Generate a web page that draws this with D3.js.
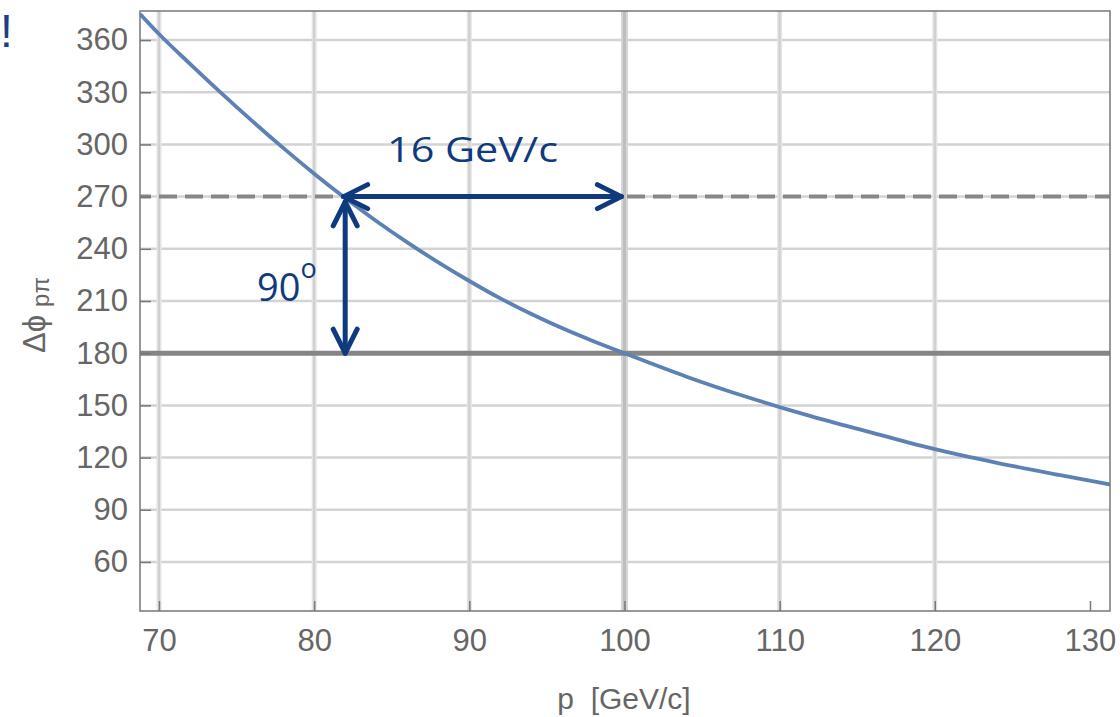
<!DOCTYPE html>
<html>
<head>
<meta charset="utf-8">
<script src="https://cdn.jsdelivr.net/npm/d3@7"></script>
<style>
  html, body { margin: 0; padding: 0; background: #fff; }
  svg { display: block; }
</style>
</head>
<body>
<svg id="chart" width="1120" height="717"></svg>
<script>
// ---- data ----
const momentum = [68.78, 70, 72, 74, 76, 78, 80, 82, 84, 86, 88, 90, 92, 94, 96, 98, 100, 104, 108, 112, 116, 120, 124, 128, 131.3];
const deltaPhi = [375, 363.5, 346.3, 329.6, 313.5, 298, 283.2, 269.2, 256, 243.7, 232.2, 221.5, 211.5, 202.5, 194.3, 186.9, 180, 166.5, 154.5, 143.8, 134.2, 124.8, 117, 110, 104.5];
const xTicks = [70, 80, 90, 100, 110, 120, 130];
const xGrid = [70, 80, 90, 100, 110, 120];
const yTicks = [60, 90, 120, 150, 180, 210, 240, 270, 300, 330, 360];
const refSolid = 180;
const refDashed = 270;
const hArrow = { value: 270, from: 81.9, to: 99.8, label: "16 GeV/c" };
const vArrow = { p: 82, from: 267, to: 180, label: "90", sup: "o" };

// ---- layout ----
const plotL = 140, plotR = 1110, plotT = 11, plotB = 611;
const svg = d3.select("#chart");
const x = d3.scaleLinear().domain([68.776, 131.29]).range([plotL, plotR]);
const y = d3.scaleLinear().domain([31.8, 376.7]).range([plotB, plotT]);

const navy = "#0f3a7d";
const axisGray = "#777";
const labelGray = "#666";

svg.append("defs").append("clipPath").attr("id", "plotclip")
  .append("rect").attr("x", plotL).attr("y", plotT).attr("width", plotR - plotL).attr("height", plotB - plotT);

// horizontal grid
svg.append("g").selectAll("line").data(yTicks).join("line")
  .attr("x1", plotL).attr("x2", plotR)
  .attr("y1", d => y(d)).attr("y2", d => y(d))
  .attr("stroke", "#d3d3d3").attr("stroke-width", 2.5);

// vertical grid (two-tone)
const vg = svg.append("g");
vg.selectAll("line.outer").data(xGrid).join("line").attr("class", "outer")
  .attr("x1", d => x(d)).attr("x2", d => x(d)).attr("y1", plotT).attr("y2", plotB)
  .attr("stroke", d => d === 100 ? "#d6d6d6" : "#e4e4e4")
  .attr("stroke-width", d => d === 100 ? 7 : 5);
vg.selectAll("line.inner").data(xGrid).join("line").attr("class", "inner")
  .attr("x1", d => x(d)).attr("x2", d => x(d)).attr("y1", plotT).attr("y2", plotB)
  .attr("stroke", d => d === 100 ? "#bdbdbd" : "#cfcfcf")
  .attr("stroke-width", d => d === 100 ? 3 : 2);

// reference lines
svg.append("line")
  .attr("x1", plotL).attr("x2", plotR).attr("y1", y(refDashed)).attr("y2", y(refDashed))
  .attr("stroke", "#878787").attr("stroke-width", 4)
  .attr("stroke-dasharray", "18,8").attr("stroke-dashoffset", 7);
svg.append("line")
  .attr("x1", plotL).attr("x2", plotR).attr("y1", y(refSolid)).attr("y2", y(refSolid))
  .attr("stroke", "#858585").attr("stroke-width", 5);

// curve
const pts = momentum.map((p, i) => [p, deltaPhi[i]]);
svg.append("path")
  .attr("clip-path", "url(#plotclip)")
  .attr("d", d3.line().x(d => x(d[0])).y(d => y(d[1])).curve(d3.curveMonotoneX)(pts))
  .attr("fill", "none").attr("stroke", "#5e81b5").attr("stroke-width", 3.8);

// frame
svg.append("rect").attr("x", plotL).attr("y", plotT).attr("width", plotR - plotL).attr("height", plotB - plotT)
  .attr("fill", "none").attr("stroke", axisGray).attr("stroke-width", 1.5);

// axes with inward ticks
const xAxis = d3.axisBottom(x).tickValues(xTicks).tickSize(-10).tickPadding(18).tickFormat(d3.format("d"));
const gx = svg.append("g").attr("transform", `translate(0,${plotB})`).call(xAxis);
gx.select(".domain").remove();
gx.selectAll(".tick line").attr("stroke", axisGray).attr("stroke-width", 1.5);
gx.selectAll(".tick text").attr("fill", labelGray)
  .style("font-family", "'Liberation Sans', Arial, sans-serif").style("font-size", "31px");

const yAxis = d3.axisLeft(y).tickValues(yTicks).tickSize(-11).tickPadding(12).tickFormat(d3.format("d"));
const gy = svg.append("g").attr("transform", `translate(${plotL},0)`).call(yAxis);
gy.select(".domain").remove();
gy.selectAll(".tick line").attr("stroke", axisGray).attr("stroke-width", 1.5);
gy.selectAll(".tick text").attr("fill", labelGray)
  .style("font-family", "'Liberation Sans', Arial, sans-serif").style("font-size", "31px");

// axis titles
svg.append("text")
  .attr("x", 624).attr("y", 709).attr("text-anchor", "middle")
  .attr("fill", labelGray)
  .style("font-family", "'Liberation Sans', Arial, sans-serif").style("font-size", "30px")
  .style("white-space", "pre")
  .text("p  [GeV/c]");

const yt = svg.append("text")
  .attr("transform", "translate(45,315) rotate(-90)")
  .attr("text-anchor", "middle")
  .attr("fill", labelGray)
  .style("font-family", "'Liberation Sans', Arial, sans-serif").style("font-size", "31px");
yt.append("tspan").text("Δϕ");
yt.append("tspan").attr("dx", 8).attr("dy", 4).style("font-size", "24px").text("pπ");

// arrows
const arrowG = svg.append("g").attr("stroke", navy).attr("stroke-width", 5)
  .attr("stroke-linecap", "round").attr("stroke-linejoin", "round").attr("fill", "none");
function chevron(tx, ty, dx, dy, horizontal) {
  const p = horizontal
    ? [[tx + dx, ty - dy], [tx, ty], [tx + dx, ty + dy]]
    : [[tx - dx, ty + dy], [tx, ty], [tx + dx, ty + dy]];
  arrowG.append("path").attr("d", d3.line()(p));
}
// horizontal
const hy = y(hArrow.value), hx1 = x(hArrow.from), hx2 = x(hArrow.to);
arrowG.append("line").attr("x1", hx1).attr("x2", hx2).attr("y1", hy).attr("y2", hy);
chevron(hx1, hy, 24, 12, true);
chevron(hx2, hy, -24, 12, true);
// vertical
const vx = x(vArrow.p), vy1 = y(vArrow.from), vy2 = y(vArrow.to);
arrowG.append("line").attr("x1", vx).attr("x2", vx).attr("y1", vy1).attr("y2", vy2);
chevron(vx, vy1, 12, 24, false);
chevron(vx, vy2, 12, -24, false);

// annotation labels
svg.append("text")
  .attr("x", 387).attr("y", 162)
  .attr("fill", navy)
  .attr("textLength", 171).attr("lengthAdjust", "spacingAndGlyphs")
  .style("font-family", "'Open Sans', Lato, sans-serif").style("font-size", "35px")
  .text(hArrow.label);

const t90 = svg.append("text")
  .attr("x", 257).attr("y", 301)
  .attr("fill", navy)
  .style("font-family", "'Open Sans', Lato, sans-serif").style("font-size", "38px");
t90.append("tspan").text(vArrow.label);
t90.append("tspan").attr("dy", -23).style("font-size", "27px").text(vArrow.sup);

// stray mark at top-left
svg.append("text")
  .attr("x", 0).attr("y", 47).attr("text-anchor", "start")
  .attr("fill", "#1c3f86")
  .style("font-family", "'Liberation Sans', Arial, sans-serif").style("font-size", "46px")
  .text("!");
</script>
</body>
</html>
